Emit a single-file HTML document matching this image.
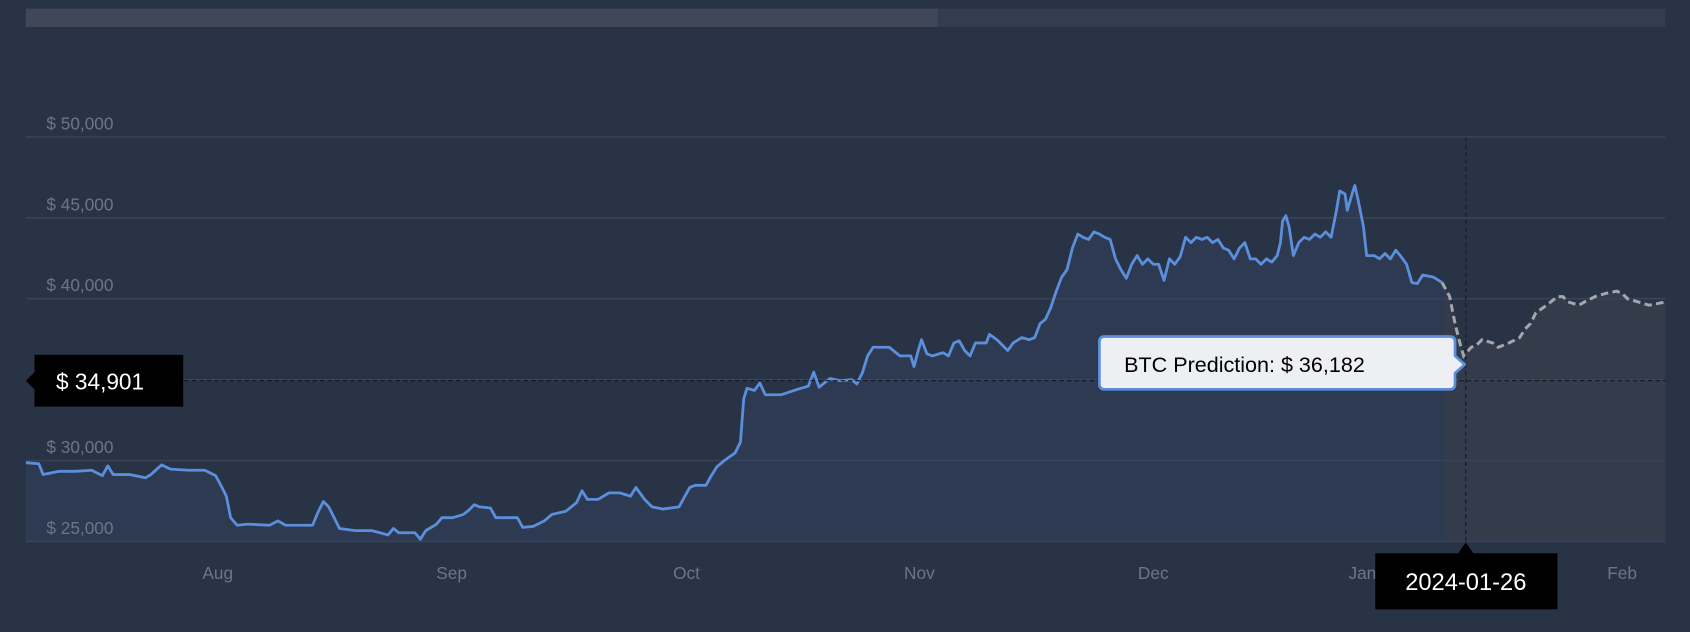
<!DOCTYPE html>
<html><head><meta charset="utf-8"><style>
html,body{margin:0;padding:0;background:#283345;}
svg{display:block}
text{font-family:"Liberation Sans",sans-serif;}
</style></head><body>
<svg width="1690" height="632" viewBox="0 0 1568 586" preserveAspectRatio="none" xmlns="http://www.w3.org/2000/svg">
<rect x="0" y="0" width="1568" height="586" fill="#283345"/>
<rect x="24" y="8" width="1521" height="17" fill="#333d50"/>
<rect x="24" y="8" width="846" height="17" fill="#404759"/>
<polygon fill="#343b4b" points="1338,262 1345,275 1350,300 1355,320 1358,330 1365,322 1370,320 1375,315 1385,318 1390,322 1400,318 1410,313 1415,305 1420,300 1425,290 1435,283 1445,275 1450,275 1455,280 1465,283 1470,280 1480,275 1490,272 1500,270 1505,272 1510,277 1520,280 1530,283 1545,280 1545,502 1340,502"/>
<polyline fill="#2d3a52" stroke="none" points="24,502 24,429 36,430 40,440 55,437 70,437 85,436 95,441 100,432 105,440 120,440 135,443 140,440 150,431 158,435 175,436 190,436 200,441 205,450 210,460 214,480 220,487 230,486 250,487 258,483 265,487 290,487 295,475 300,465 305,470 310,480 315,490 330,492 345,492 360,496 365,490 370,494 385,494 390,500 395,492 405,486 410,480 420,480 430,477 435,473 440,468 445,470 455,471 460,480 480,480 485,489 495,488 505,483 512,477 525,474 535,466 540,455 545,463 555,463 565,457 575,457 585,460 590,452 598,463 605,470 615,472 630,470 636,459 640,452 645,450 655,450 660,441 665,433 672,427 682,420 687,410 690,370 693,360 700,362 705,355 710,366 725,366 740,361 750,358 755,345 760,359 770,351 780,353 790,352 795,356 800,346 805,330 810,322 825,322 835,330 845,330 848,340 852,325 855,315 860,328 865,330 875,327 880,330 885,318 890,316 895,325 900,330 905,318 915,318 918,310 925,315 935,325 940,318 948,313 955,315 960,313 965,300 970,296 975,285 980,270 985,257 990,250 995,230 1000,217 1005,220 1010,222 1015,215 1020,217 1025,220 1030,222 1035,240 1040,250 1045,258 1050,245 1055,237 1060,245 1065,240 1070,245 1075,245 1080,260 1085,240 1090,245 1095,238 1100,220 1105,225 1110,220 1115,222 1120,220 1125,225 1130,222 1135,230 1140,232 1145,240 1150,230 1155,225 1160,240 1165,240 1170,245 1175,240 1180,243 1185,237 1188,225 1190,205 1193,200 1196,210 1200,237 1205,225 1210,220 1215,222 1220,217 1225,220 1230,215 1235,220 1240,195 1243,177 1248,180 1250,195 1255,178 1257,172 1260,185 1265,210 1268,237 1275,237 1280,240 1285,235 1290,240 1295,232 1300,238 1305,245 1310,262 1315,263 1320,255 1330,257 1338,262 1340,268 1340,502"/>
<g stroke="#37435a" stroke-width="1.5">
<line x1="24" y1="127" x2="1545" y2="127"/>
<line x1="24" y1="202" x2="1545" y2="202"/>
<line x1="24" y1="277" x2="1545" y2="277"/>
<line x1="24" y1="352" x2="1545" y2="352"/>
<line x1="24" y1="427" x2="1545" y2="427"/>
<line x1="24" y1="502" x2="1545" y2="502"/>
</g>
<g fill="#6b7689" font-size="16">
<text x="43" y="120">$ 50,000</text>
<text x="43" y="195">$ 45,000</text>
<text x="43" y="270">$ 40,000</text>
<text x="43" y="420">$ 30,000</text>
<text x="43" y="495">$ 25,000</text>
</g>
<polyline fill="none" stroke="#5b8fdc" stroke-width="2.6" stroke-linejoin="round" points="24,429 36,430 40,440 55,437 70,437 85,436 95,441 100,432 105,440 120,440 135,443 140,440 150,431 158,435 175,436 190,436 200,441 205,450 210,460 214,480 220,487 230,486 250,487 258,483 265,487 290,487 295,475 300,465 305,470 310,480 315,490 330,492 345,492 360,496 365,490 370,494 385,494 390,500 395,492 405,486 410,480 420,480 430,477 435,473 440,468 445,470 455,471 460,480 480,480 485,489 495,488 505,483 512,477 525,474 535,466 540,455 545,463 555,463 565,457 575,457 585,460 590,452 598,463 605,470 615,472 630,470 636,459 640,452 645,450 655,450 660,441 665,433 672,427 682,420 687,410 690,370 693,360 700,362 705,355 710,366 725,366 740,361 750,358 755,345 760,359 770,351 780,353 790,352 795,356 800,346 805,330 810,322 825,322 835,330 845,330 848,340 852,325 855,315 860,328 865,330 875,327 880,330 885,318 890,316 895,325 900,330 905,318 915,318 918,310 925,315 935,325 940,318 948,313 955,315 960,313 965,300 970,296 975,285 980,270 985,257 990,250 995,230 1000,217 1005,220 1010,222 1015,215 1020,217 1025,220 1030,222 1035,240 1040,250 1045,258 1050,245 1055,237 1060,245 1065,240 1070,245 1075,245 1080,260 1085,240 1090,245 1095,238 1100,220 1105,225 1110,220 1115,222 1120,220 1125,225 1130,222 1135,230 1140,232 1145,240 1150,230 1155,225 1160,240 1165,240 1170,245 1175,240 1180,243 1185,237 1188,225 1190,205 1193,200 1196,210 1200,237 1205,225 1210,220 1215,222 1220,217 1225,220 1230,215 1235,220 1240,195 1243,177 1248,180 1250,195 1255,178 1257,172 1260,185 1265,210 1268,237 1275,237 1280,240 1285,235 1290,240 1295,232 1300,238 1305,245 1310,262 1315,263 1320,255 1330,257 1338,262"/>
<polyline fill="none" stroke="#a3a6ab" stroke-width="2.8" stroke-dasharray="7,4" points="1338,262 1345,275 1350,300 1355,320 1358,330 1365,322 1370,320 1375,315 1385,318 1390,322 1400,318 1410,313 1415,305 1420,300 1425,290 1435,283 1445,275 1450,275 1455,280 1465,283 1470,280 1480,275 1490,272 1500,270 1505,272 1510,277 1520,280 1530,283 1545,280"/>
<line x1="24" y1="353" x2="1545" y2="353" stroke="#111722" stroke-width="1" stroke-dasharray="4,3"/>
<line x1="1360" y1="127" x2="1360" y2="502" stroke="#111722" stroke-width="1" stroke-dasharray="4,3"/>
<g fill="#6b7689" font-size="16" text-anchor="middle">
<text x="202" y="537">Aug</text>
<text x="419" y="537">Sep</text>
<text x="637" y="537">Oct</text>
<text x="853" y="537">Nov</text>
<text x="1070" y="537">Dec</text>
<text x="1264" y="537">Jan</text>
<text x="1505" y="537">Feb</text>
</g>
<rect x="32" y="329" width="138" height="48" fill="#000"/>
<polygon points="24,353 32,345 32,361" fill="#000"/>
<text x="52" y="361" fill="#fff" font-size="21">$ 34,901</text>
<path d="M1025,312 H1345 Q1350,312 1350,317 V330 L1359,338 L1350,346 V356 Q1350,361 1345,361 H1025 Q1020,361 1020,356 V317 Q1020,312 1025,312 Z" fill="#eeeff2" stroke="#5b8fdc" stroke-width="2.5" stroke-linejoin="round"/>
<text x="1043" y="345" fill="#000" font-size="20">BTC Prediction: $ 36,182</text>
<rect x="1276" y="513" width="169" height="52" fill="#000"/>
<polygon points="1353,513 1360,503 1367,513" fill="#000"/>
<text x="1360" y="547" fill="#fff" font-size="22" text-anchor="middle">2024-01-26</text>
</svg>
</body></html>
